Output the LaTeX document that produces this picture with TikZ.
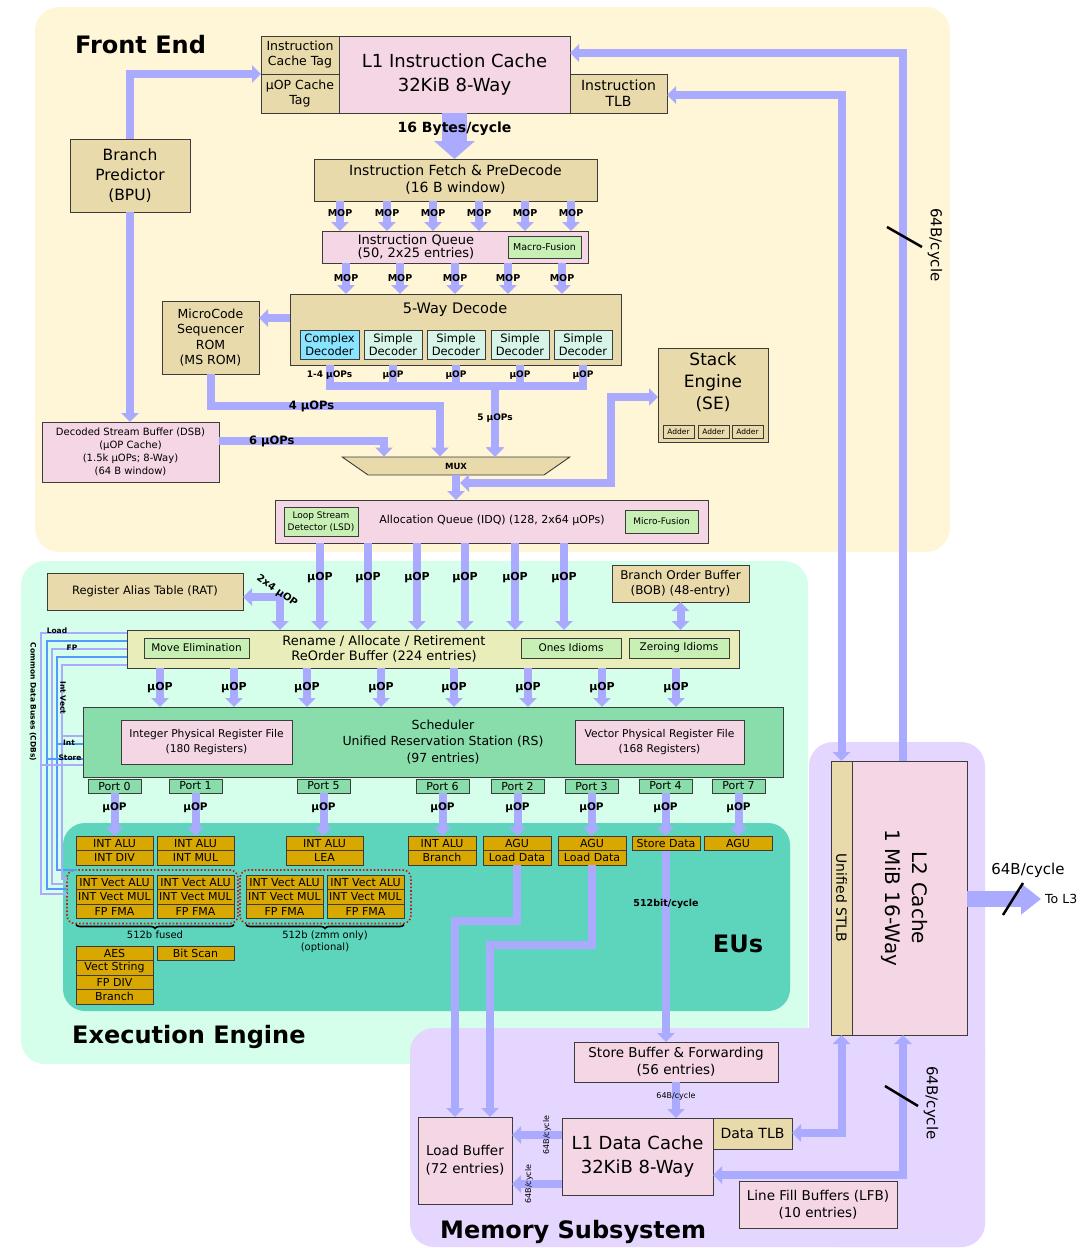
\documentclass[tikz,border=0pt]{standalone}
\usepackage{fontspec}
\setmainfont{DejaVu Sans}
\usetikzlibrary{positioning,arrows.meta,shapes.geometric,decorations.pathreplacing}

\definecolor{feback}{HTML}{FFF5D7}
\definecolor{eeback}{HTML}{D5FFEA}
\definecolor{eusback}{HTML}{5DD5BD}
\definecolor{memback}{HTML}{E4D6FF}
\definecolor{tanfill}{HTML}{E8DAAA}
\definecolor{pinkfill}{HTML}{F4D6E4}
\definecolor{mintfill}{HTML}{C8F0B4}
\definecolor{renfill}{HTML}{E9EDBA}
\definecolor{schedfill}{HTML}{88DDAA}
\definecolor{eufill}{HTML}{D8A800}
\definecolor{cplxfill}{HTML}{88E4FF}
\definecolor{smplfill}{HTML}{D6F5E8}
\definecolor{buscol}{HTML}{AAAAFF}
\definecolor{cdbblue}{HTML}{5599FF}
\definecolor{edge}{HTML}{3C3C3C}
\definecolor{dotred}{HTML}{C02020}

\begin{document}
\begin{tikzpicture}[x=1pt, y=-1pt]

% ---- Define Styles ----
\tikzset{
  box/.style={draw=edge, line width=0.9pt, align=center, anchor=north west,
    inner sep=0pt, outer sep=0pt},
  wh/.style 2 args={minimum width=#1pt, minimum height=#2pt},
  tanbox/.style={box, fill=tanfill},
  pinkbox/.style={box, fill=pinkfill},
  mintbox/.style={box, fill=mintfill},
  portbox/.style={box, fill=schedfill, minimum width=53pt, minimum height=14pt,
    font=\fontsize{11}{12}\selectfont},
  euwide/.style={box, fill=eufill, minimum width=77pt, minimum height=14.5pt,
    font=\fontsize{11}{12}\selectfont},
  eunarrow/.style={euwide, minimum width=68pt},
  txt/.style={inner sep=0pt, align=center},
  sect/.style={txt, font=\fontsize{24}{26}\selectfont\bfseries},
  bus/.style={draw=buscol, line width=8pt, -{Triangle[length=9pt, width=17pt]}},
  busboth/.style={draw=buscol, line width=8pt,
    {Triangle[length=9pt, width=17pt]}-{Triangle[length=9pt, width=17pt]}},
  cdb/.style={draw=buscol, line width=1.8pt},
  cdbdark/.style={draw=cdbblue, line width=1.8pt},
  cdblbl/.style={txt, font=\fontsize{7.5}{8}\selectfont\bfseries},
  mop/.style={txt, font=\fontsize{9.5}{10}\selectfont\bfseries},
  uop/.style={txt, font=\fontsize{11}{12}\selectfont\bfseries},
  uopport/.style={txt, font=\fontsize{10.5}{11}\selectfont\bfseries},
  uopsm/.style={txt, font=\fontsize{9}{10}\selectfont\bfseries},
  uopmid/.style={txt, font=\fontsize{11.5}{12}\selectfont\bfseries},
  rate/.style={txt, font=\fontsize{15}{16}\selectfont},
  tinyrate/.style={txt, font=\fontsize{8}{9}\selectfont},
  slash/.style={draw=black, line width=2.5pt},
  grp/.style={draw=dotred, line width=1.6pt, dotted, rounded corners=8pt},
  brc/.style={draw=black, line width=1.6pt, decorate,
    decoration={brace, mirror, amplitude=4pt}}
}

\useasboundingbox (0,0) rectangle (1086,1248);

% =========================================================
% BACKGROUND REGIONS
% =========================================================
\fill[feback, rounded corners=24pt] (35,7) rectangle (950,552);
\fill[eeback, rounded corners=24pt] (21,561) rectangle (808,1064);
\fill[eusback, rounded corners=22pt] (63,823) rectangle (790,1011);
\fill[memback, rounded corners=24pt] (410,1028) rectangle (985,1247);
\fill[memback, rounded corners=24pt] (809,742) rectangle (985,1247);

% =========================================================
% FRONT END
% =========================================================
\node[sect, anchor=west] (felbl) at (75,45) {Front End};

\node[tanbox, wh={78}{38}, font=\fontsize{12.5}{15}\selectfont] (ictag) at (261,36) {Instruction\\Cache Tag};
\node[tanbox, wh={78}{39}, font=\fontsize{12.5}{15}\selectfont] (uoptag) at (261,74) {µOP Cache\\Tag};
\node[pinkbox, wh={231}{77}, font=\fontsize{18}{24}\selectfont] (icache) at (339,36) {L1 Instruction Cache\\32KiB 8-Way};
\node[tanbox, wh={97}{39}, font=\fontsize{14}{16}\selectfont] (itlb) at (570,74) {Instruction\\TLB};

\node[tanbox, wh={120}{73}, font=\fontsize{15.5}{20}\selectfont] (bpu) at (70,139) {Branch\\Predictor\\(BPU)};

\node[tanbox, wh={283}{42}, font=\fontsize{14}{17}\selectfont] (fetch) at (314,159) {Instruction Fetch \& PreDecode\\(16 B window)};

\node[pinkbox, wh={266}{32}] (iq) at (322,231) {};
\node[txt, font=\fontsize{13}{12.5}\selectfont] (iqlbl) at (416,247) {Instruction Queue\\(50, 2x25 entries)};
\node[mintbox, wh={73}{22}, font=\fontsize{9.5}{10}\selectfont] (mfuse) at (508,236) {Macro-Fusion};

% 5-way decode block
\node[tanbox, wh={331}{71}] (dec) at (290,294) {};
\node[txt, font=\fontsize{14.5}{16}\selectfont] (declbl) at (455,309) {5-Way Decode};
\node[box, fill=cplxfill, wh={59}{29}, font=\fontsize{11.5}{13}\selectfont] (cdec) at (300,330) {Complex\\Decoder};
\node[box, fill=smplfill, wh={58}{29}, font=\fontsize{11.5}{13}\selectfont] (sdeca) at (364,330) {Simple\\Decoder};
\node[box, fill=smplfill, wh={58}{29}, font=\fontsize{11.5}{13}\selectfont] (sdecb) at (427,330) {Simple\\Decoder};
\node[box, fill=smplfill, wh={58}{29}, font=\fontsize{11.5}{13}\selectfont] (sdecc) at (491,330) {Simple\\Decoder};
\node[box, fill=smplfill, wh={58}{29}, font=\fontsize{11.5}{13}\selectfont] (sdecd) at (554,330) {Simple\\Decoder};

\node[tanbox, wh={97}{73}, font=\fontsize{12.5}{15.3}\selectfont] (msrom) at (162,301) {MicroCode\\Sequencer\\ROM\\(MS ROM)};
\node[pinkbox, wh={177}{60}, font=\fontsize{10}{13}\selectfont] (dsb) at (42,422) {Decoded Stream Buffer (DSB)\\(µOP Cache)\\(1.5k µOPs; 8-Way)\\(64 B window)};

\node[trapezium, trapezium stretches=true, shape border rotate=180, trapezium angle=63,
  draw=edge, line width=0.9pt, fill=tanfill, minimum width=228pt, minimum height=18pt,
  inner sep=0pt, font=\fontsize{8.5}{9}\selectfont\bfseries] (mux) at (456,466) {MUX};

% Stack engine with its three adders
\node[tanbox, wh={110}{94}] (se) at (658,348) {};
\node[txt, font=\fontsize{17}{22}\selectfont] (selbl) at (713,382) {Stack\\Engine\\(SE)};
\node[tanbox, wh={31}{13}, font=\fontsize{7.5}{8}\selectfont] (adda) at (663,425) {Adder};
\node[tanbox, wh={31}{13}, font=\fontsize{7.5}{8}\selectfont] (addb) at (698,425) {Adder};
\node[tanbox, wh={31}{13}, font=\fontsize{7.5}{8}\selectfont] (addc) at (732,425) {Adder};

\node[pinkbox, wh={433}{43}] (idq) at (275,500) {};
\node[txt, font=\fontsize{11}{12}\selectfont] (idqlbl) at (492,520) {Allocation Queue (IDQ) (128, 2x64 µOPs)};
\node[mintbox, wh={74}{29}, font=\fontsize{9}{11.5}\selectfont] (lsd) at (284,507) {Loop Stream\\Detector (LSD)};
\node[mintbox, wh={73}{23}, font=\fontsize{9}{10}\selectfont] (mifuse) at (625,510) {Micro-Fusion};

% =========================================================
% FRONT END BUSES
% =========================================================
\draw[draw=buscol, line width=25pt, -{Triangle[length=18pt, width=40pt]}]
  (icache.south) -- node[pos=0.35, txt, font=\fontsize{14}{15}\selectfont\bfseries] {16 Bytes/cycle} (icache.south |- fetch.north);
\draw[bus] (bpu.north) |- (uoptag.north west);
\draw[bus] (bpu.south) -- (bpu.south |- dsb.north);

% MOPs: fetch -> instruction queue
\draw[bus] (340,0 |- fetch.south) -- node[mop, pos=0.4] {MOP} (340,0 |- iq.north);
\draw[bus] (387,0 |- fetch.south) -- node[mop, pos=0.4] {MOP} (387,0 |- iq.north);
\draw[bus] (433,0 |- fetch.south) -- node[mop, pos=0.4] {MOP} (433,0 |- iq.north);
\draw[bus] (479,0 |- fetch.south) -- node[mop, pos=0.4] {MOP} (479,0 |- iq.north);
\draw[bus] (525,0 |- fetch.south) -- node[mop, pos=0.4] {MOP} (525,0 |- iq.north);
\draw[bus] (571,0 |- fetch.south) -- node[mop, pos=0.4] {MOP} (571,0 |- iq.north);

% MOPs: instruction queue -> decoders
\draw[bus] (346,0 |- iq.south) -- node[mop] {MOP} (346,0 |- dec.north);
\draw[bus] (400,0 |- iq.south) -- node[mop] {MOP} (400,0 |- dec.north);
\draw[bus] (455,0 |- iq.south) -- node[mop] {MOP} (455,0 |- dec.north);
\draw[bus] (508,0 |- iq.south) -- node[mop] {MOP} (508,0 |- dec.north);
\draw[bus] (562,0 |- iq.south) -- node[mop] {MOP} (562,0 |- dec.north);

\draw[bus] (dec.west |- 0,318) -- (msrom.east |- 0,318);

% decoders -> MUX
\draw[bus] (cdec.south |- dec.south) -- node[uopsm] {1-4 µOPs} (cdec.south |- 0,386) -- (495,386) -- (495,0 |- mux.north);
\draw[bus] (sdeca.south |- dec.south) -- node[uopsm] {µOP} (sdeca.south |- 0,386) -- (495,386) -- (495,0 |- mux.north);
\draw[bus] (sdecb.south |- dec.south) -- node[uopsm] {µOP} (sdecb.south |- 0,386) -- (495,386) -- (495,0 |- mux.north);
\draw[bus] (sdecc.south |- dec.south) -- node[uopsm] {µOP} (sdecc.south |- 0,386) -- (495,386) -- (495,0 |- mux.north);
\draw[bus] (sdecd.south |- dec.south) -- node[uopsm] {µOP} (sdecd.south |- 0,386) -- (495,386)
  -- node[uopsm, pos=0.45] {5 µOPs} (495,0 |- mux.north);

\draw[bus] (msrom.south) |- node[uopmid, pos=0.72] {4 µOPs} (440,406) -- (440,0 |- mux.north);
\draw[bus] (dsb.east |- 0,441) -| node[uopmid, pos=0.16] {6 µOPs} (384,0 |- mux.north);

\draw[bus] (mux.south) -- (mux.south |- idq.north);
\coordinate (sejoin) at (460,483);
\draw[busboth] (sejoin) -- (611,483) -- (611,397) -- (se.west |- 0,397);

% =========================================================
% EXECUTION ENGINE
% =========================================================
\node[sect, anchor=west] (eelbl) at (72,1037) {Execution Engine};

\node[tanbox, wh={196}{37}, font=\fontsize{11.5}{13}\selectfont] (rat) at (47,573) {Register Alias Table (RAT)};
\node[tanbox, wh={137}{37}, font=\fontsize{12}{15}\selectfont] (bob) at (612,565) {Branch Order Buffer\\(BOB) (48-entry)};

\node[box, fill=renfill, wh={612}{38}] (ren) at (127,630) {};
\node[txt, font=\fontsize{13}{15}\selectfont] (renlbl) at (384,649) {Rename / Allocate / Retirement\\ReOrder Buffer (224 entries)};
\node[mintbox, wh={105}{20}, font=\fontsize{10.5}{12}\selectfont] (movel) at (144,638) {Move Elimination};
\node[mintbox, wh={100}{20}, font=\fontsize{10.5}{12}\selectfont] (ones) at (521,638) {Ones Idioms};
\node[mintbox, wh={100}{20}, font=\fontsize{10.5}{12}\selectfont] (zero) at (629,638) {Zeroing Idioms};

\node[box, fill=schedfill, wh={700}{70}] (sched) at (83,707) {};
\node[txt, font=\fontsize{12.5}{16.5}\selectfont] (schedlbl) at (443,742) {Scheduler\\Unified Reservation Station (RS)\\(97 entries)};
\node[pinkbox, wh={171}{44}, font=\fontsize{10.7}{15}\selectfont] (iprf) at (121,720) {Integer Physical Register File\\(180 Registers)};
\node[pinkbox, wh={169}{44}, font=\fontsize{10.7}{15}\selectfont] (vprf) at (575,720) {Vector Physical Register File\\(168 Registers)};

% ports
\node[portbox] (p0) at (88,779) {Port 0};
\node[portbox] (p1) at (169,779) {Port 1};
\node[portbox] (p5) at (297,779) {Port 5};
\node[portbox] (p6) at (416,779) {Port 6};
\node[portbox] (p2) at (491,779) {Port 2};
\node[portbox] (p3) at (565,779) {Port 3};
\node[portbox] (p4) at (639,779) {Port 4};
\node[portbox] (p7) at (712,779) {Port 7};

% execution units
\node[euwide] (alu0) at (76,836) {INT ALU};
\node[euwide] (div0) at (76,850.5) {INT DIV};
\node[euwide] (alu1) at (157,836) {INT ALU};
\node[euwide] (mul1) at (157,850.5) {INT MUL};
\node[euwide] (alu5) at (286,836) {INT ALU};
\node[euwide] (lea5) at (286,850.5) {LEA};
\node[eunarrow] (alu6) at (408,836) {INT ALU};
\node[eunarrow] (br6) at (408,850.5) {Branch};
\node[eunarrow] (agu2) at (483,836) {AGU};
\node[eunarrow] (ld2) at (483,850.5) {Load Data};
\node[eunarrow] (agu3) at (558,836) {AGU};
\node[eunarrow] (ld3) at (558,850.5) {Load Data};
\node[eunarrow] (sd4) at (632,836) {Store Data};
\node[eunarrow] (agu7) at (704,836) {AGU};

\node[euwide] (vaA) at (76,875) {INT Vect ALU};
\node[euwide] (vmA) at (76,889.5) {INT Vect MUL};
\node[euwide] (fmaA) at (76,904) {FP FMA};
\node[euwide] (vaB) at (157,875) {INT Vect ALU};
\node[euwide] (vmB) at (157,889.5) {INT Vect MUL};
\node[euwide] (fmaB) at (157,904) {FP FMA};
\node[euwide] (vaC) at (246,875) {INT Vect ALU};
\node[euwide] (vmC) at (246,889.5) {INT Vect MUL};
\node[euwide] (fmaC) at (246,904) {FP FMA};
\node[euwide] (vaD) at (327,875) {INT Vect ALU};
\node[euwide] (vmD) at (327,889.5) {INT Vect MUL};
\node[euwide] (fmaD) at (327,904) {FP FMA};

\node[euwide] (aes) at (76,946) {AES};
\node[euwide] (vstr) at (76,960.5) {Vect String};
\node[euwide] (fdiv) at (76,975) {FP DIV};
\node[euwide] (br0) at (76,989.5) {Branch};
\node[euwide] (bscan) at (157,946) {Bit Scan};

\draw[grp] ([shift={(-9pt,5pt)}]vaA.north west) rectangle ([shift={(4pt,-5pt)}]fmaB.south east);
\draw[grp] ([shift={(-6pt,5pt)}]vaC.north west) rectangle ([shift={(7pt,-5pt)}]fmaD.south east);
\draw[brc] ([yshift=-6pt]fmaA.south west) -- ([yshift=-6pt]fmaB.south east)
  node[midway, below=6pt, txt, font=\fontsize{10}{12}\selectfont] (fusedlbl) {512b fused};
\draw[brc] ([yshift=-6pt]fmaC.south west) -- ([yshift=-6pt]fmaD.south east)
  node[midway, below=6pt, txt, font=\fontsize{10}{12}\selectfont] (zmmlbl) {512b (zmm only)\\(optional)};

\node[sect] (eulbl) at (738,944) {EUs};

% =========================================================
% EXECUTION ENGINE BUSES
% =========================================================
\draw[bus] (320,0 |- idq.south) -- node[uop, pos=0.4] {µOP} (320,0 |- ren.north);
\draw[bus] (368,0 |- idq.south) -- node[uop, pos=0.4] {µOP} (368,0 |- ren.north);
\draw[bus] (417,0 |- idq.south) -- node[uop, pos=0.4] {µOP} (417,0 |- ren.north);
\draw[bus] (465,0 |- idq.south) -- node[uop, pos=0.4] {µOP} (465,0 |- ren.north);
\draw[bus] (515,0 |- idq.south) -- node[uop, pos=0.4] {µOP} (515,0 |- ren.north);
\draw[bus] (564,0 |- idq.south) -- node[uop, pos=0.4] {µOP} (564,0 |- ren.north);

\draw[busboth] (rat.east |- 0,597) -- (280,597) -- (280,0 |- ren.north);
\node[txt, rotate=-35, font=\fontsize{10}{11}\selectfont\bfseries] (ratlbl) at (277,591) {2x4 µOP};
\draw[busboth] (bob.south) -- (bob.south |- ren.north);

\draw[bus] (160,0 |- ren.south) -- node[uop] {µOP} (160,0 |- sched.north);
\draw[bus] (234,0 |- ren.south) -- node[uop] {µOP} (234,0 |- sched.north);
\draw[bus] (307,0 |- ren.south) -- node[uop] {µOP} (307,0 |- sched.north);
\draw[bus] (381,0 |- ren.south) -- node[uop] {µOP} (381,0 |- sched.north);
\draw[bus] (454,0 |- ren.south) -- node[uop] {µOP} (454,0 |- sched.north);
\draw[bus] (528,0 |- ren.south) -- node[uop] {µOP} (528,0 |- sched.north);
\draw[bus] (602,0 |- ren.south) -- node[uop] {µOP} (602,0 |- sched.north);
\draw[bus] (676,0 |- ren.south) -- node[uop] {µOP} (676,0 |- sched.north);

\draw[bus] (p0.south) -- node[uopport, pos=0.35] {µOP} (p0.south |- alu0.north);
\draw[bus] (p1.south) -- node[uopport, pos=0.35] {µOP} (p1.south |- alu1.north);
\draw[bus] (p5.south) -- node[uopport, pos=0.35] {µOP} (p5.south |- alu5.north);
\draw[bus] (p6.south) -- node[uopport, pos=0.35] {µOP} (p6.south |- alu6.north);
\draw[bus] (p2.south) -- node[uopport, pos=0.35] {µOP} (p2.south |- agu2.north);
\draw[bus] (p3.south) -- node[uopport, pos=0.35] {µOP} (p3.south |- agu3.north);
\draw[bus] (p4.south) -- node[uopport, pos=0.35] {µOP} (p4.south |- sd4.north);
\draw[bus] (p7.south) -- node[uopport, pos=0.35] {µOP} (p7.south |- agu7.north);

% common data buses
\draw[cdb] (ren.west |- 0,633) -- (41,633) -- (41,894) -- (67,894);
\draw[cdbdark] (ren.west |- 0,641) -- (47,641) -- (47,889) -- (67,889);
\draw[cdb] (ren.west |- 0,649) -- (52,649) -- (52,884) -- (67,884);
\draw[cdbdark] (ren.west |- 0,657) -- (57,657) -- (57,870) -- (alu0.west |- 0,870);
\draw[cdb] (ren.west |- 0,665) -- (62,665) -- (62,879) -- (67,879);
\draw[cdb] (sched.west |- 0,736) -- (62,736);
\draw[cdbdark] (sched.west |- 0,744) -- (57,744);
\draw[cdbdark] (sched.west |- 0,759) -- (47,759);
\draw[cdb] (sched.west |- 0,765) -- (41,765);
\node[cdblbl] (loadlbl) at (57,631) {Load};
\node[cdblbl] (fplbl) at (72,648) {FP};
\node[cdblbl, rotate=-90] (ivlbl) at (63,698) {Int Vect};
\node[cdblbl] (intlbl) at (69,743) {Int};
\node[cdblbl] (stlbl) at (70,758) {Store};
\node[cdblbl, rotate=-90] (cdblbl) at (33,702) {Common Data Buses (CDBs)};

% =========================================================
% MEMORY SUBSYSTEM
% =========================================================
\node[sect, anchor=west] (memlbl) at (440,1232) {Memory Subsystem};

\node[pinkbox, wh={204}{40}, font=\fontsize{13.5}{17}\selectfont] (sb) at (574,1042) {Store Buffer \& Forwarding\\(56 entries)};
\node[pinkbox, wh={94}{87}, font=\fontsize{13.5}{18}\selectfont] (lb) at (418,1117) {Load Buffer\\(72 entries)};
\node[pinkbox, wh={151}{77}, font=\fontsize{18}{24}\selectfont] (l1d) at (562,1118) {L1 Data Cache\\32KiB 8-Way};
\node[tanbox, wh={79}{31}, font=\fontsize{14}{16}\selectfont] (dtlb) at (713,1118) {Data TLB};
\node[pinkbox, wh={158}{47}, font=\fontsize{13.5}{17}\selectfont] (lfb) at (739,1181) {Line Fill Buffers (LFB)\\(10 entries)};

\node[tanbox, wh={21}{274}] (stlb) at (831,761) {};
\node[pinkbox, wh={115}{274}] (l2) at (852,761) {};
\node[txt, rotate=-90, font=\fontsize{14}{16}\selectfont] (stlblbl) at (841.5,898) {Unified STLB};
\node[txt, rotate=-90, font=\fontsize{20}{27}\selectfont] (l2lbl) at (905,898) {L2 Cache\\1 MiB 16-Way};

\draw[bus] (sd4.south) -- node[pos=0.28, txt, font=\fontsize{9.5}{10}\selectfont\bfseries] {512bit/cycle} (sd4.south |- sb.north);
\draw[bus] (ld2.south) -- (517,921) -- (455,921) -- (455,0 |- lb.north);
\draw[bus] (ld3.south) -- (592,945) -- (490,945) -- (490,0 |- lb.north);
\draw[bus] (676,0 |- sb.south) -- node[tinyrate, pos=0.4] {64B/cycle} (676,0 |- l1d.north);
\draw[bus] (l1d.west |- 0,1135) -- node[tinyrate, pos=0.3, rotate=90] {64B/cycle} (lb.east |- 0,1135);
\draw[bus] (l1d.west |- 0,1184) -- node[tinyrate, pos=0.66, rotate=90] {64B/cycle} (lb.east |- 0,1184);

% =========================================================
% L2 LINKS
% =========================================================
\draw[bus] (903,0 |- l2.north) -- (903,53) -- (icache.east |- 0,53);
\draw[busboth] (stlb.north) -- (stlb.north |- 0,95) -- (itlb.east |- 0,95);
\draw[slash] (887,227) -- (922,247);
\node[rate, rotate=-90] (ratetop) at (935,245) {64B/cycle};

\draw[busboth] (stlb.south) -- (stlb.south |- 0,1133) -- (dtlb.east |- 0,1133);
\draw[busboth] (903,0 |- l2.south) -- (903,1175) -- (l1d.east |- 0,1175);
\draw[slash] (885,1086) -- (918,1106);
\node[rate, rotate=-90] (ratebot) at (931,1103) {64B/cycle};

\node[txt, anchor=west, font=\fontsize{12.5}{14}\selectfont] (l3lbl) at (1045,899) {To L3};
\draw[draw=buscol, line width=16pt, -{Triangle[length=20pt, width=30pt]}]
  (l2.east |- l3lbl.west) -- ([xshift=-4pt]l3lbl.west);
\draw[slash] (1003,915) -- (1023,883);
\node[rate] (ratel3) at (1028,870) {64B/cycle};

\end{tikzpicture}
\end{document}
